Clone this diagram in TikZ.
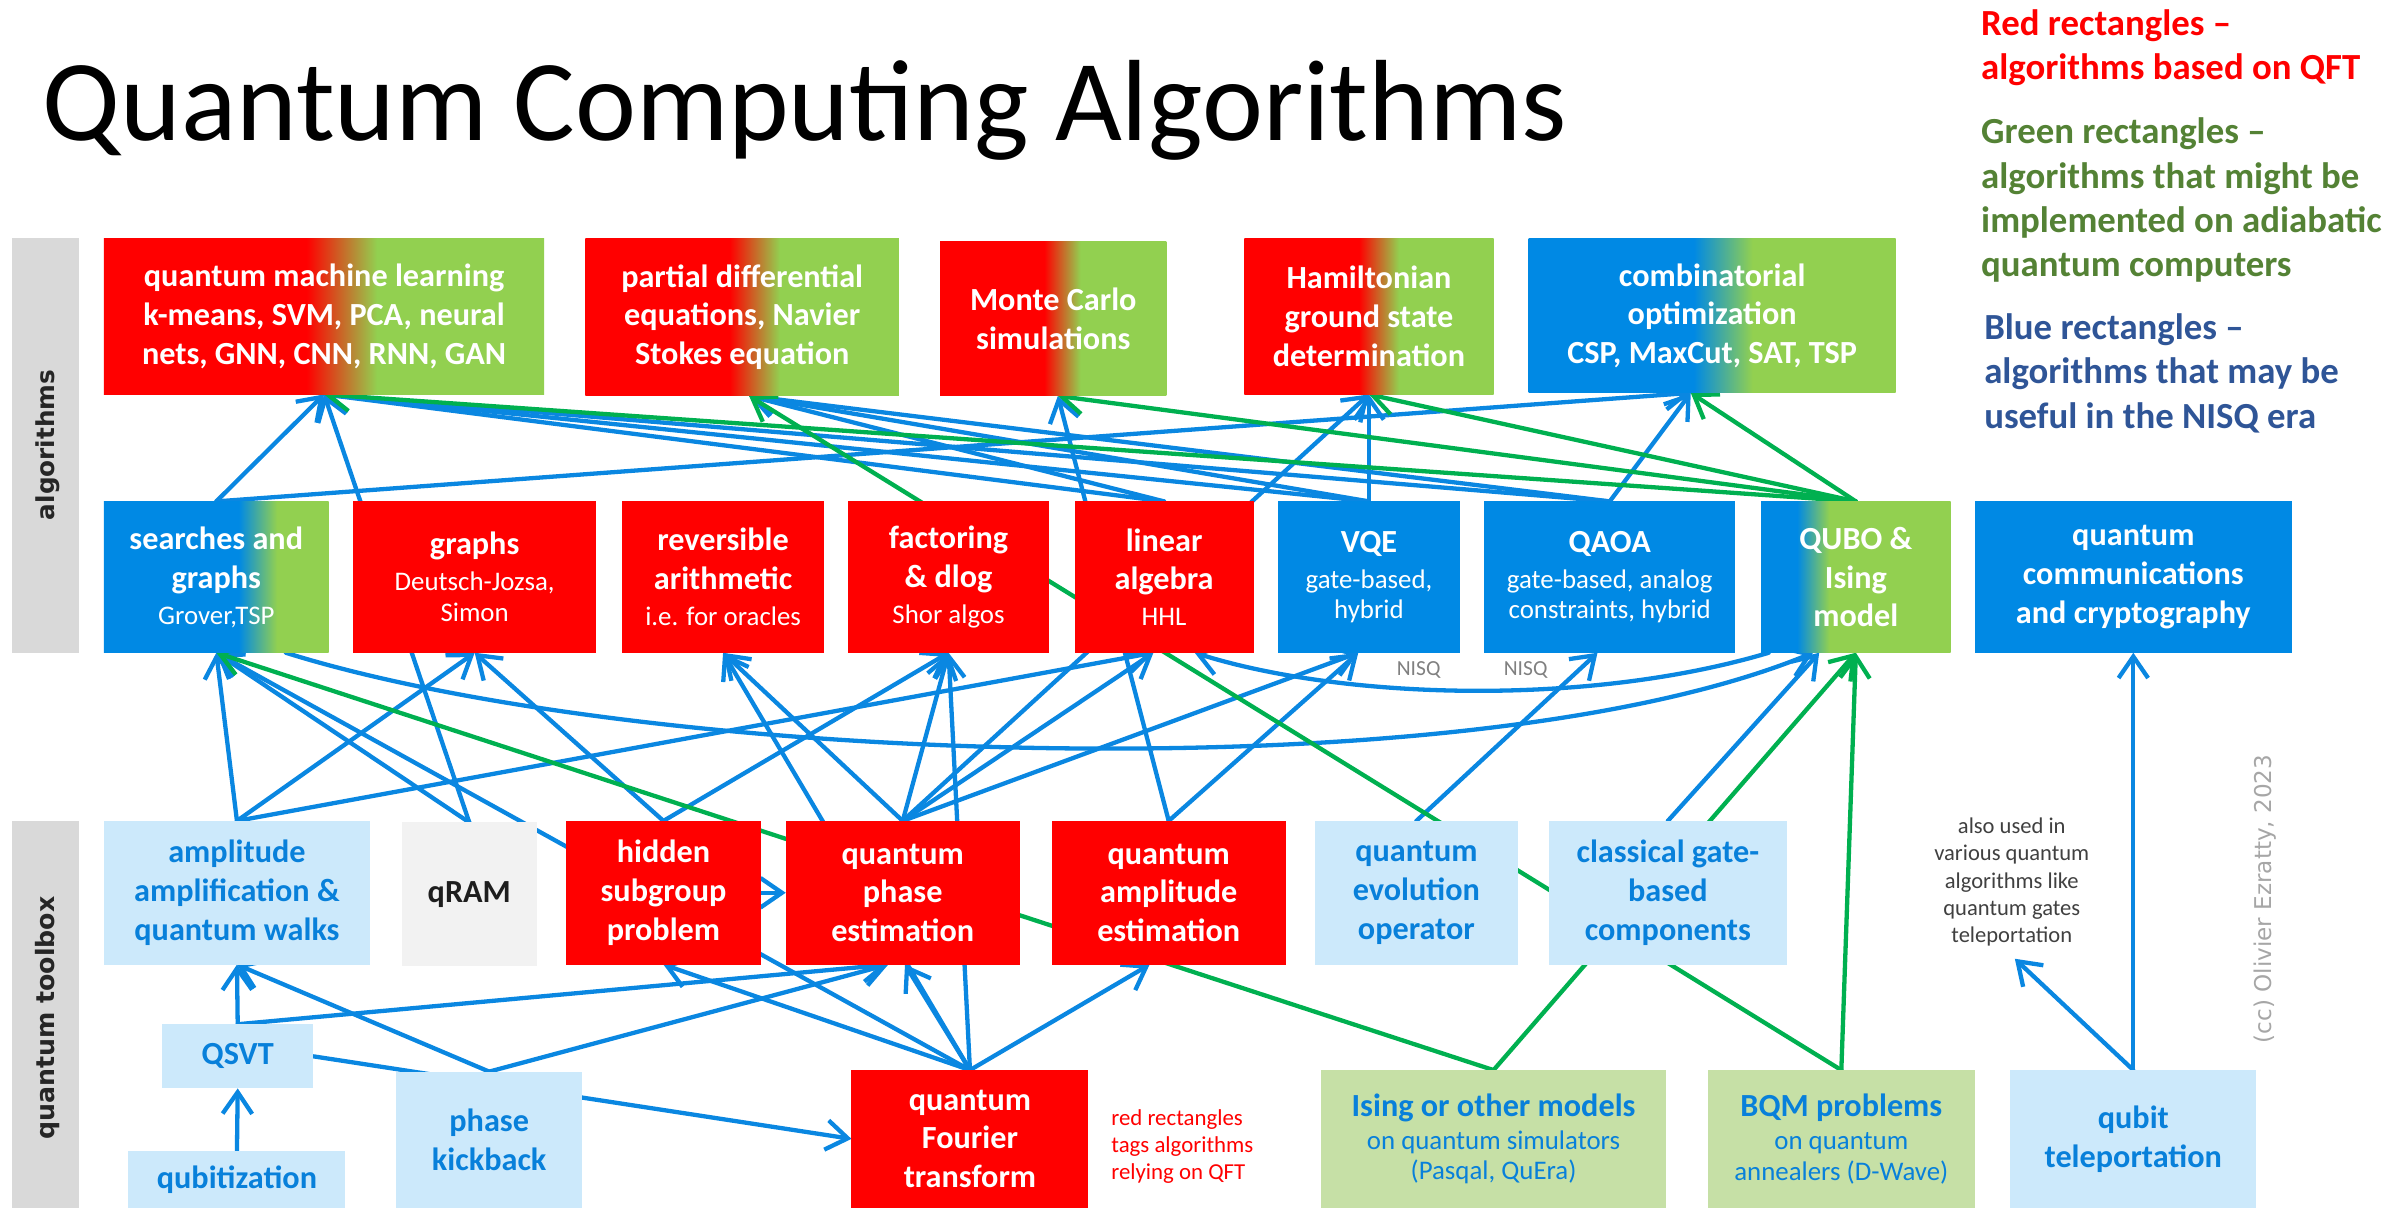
\documentclass[tikz,border=0pt]{standalone}
\usepackage{fontspec}
\setmainfont{Carlito}
\newfontfamily\barfont{DejaVu Sans}
\usetikzlibrary{arrows.meta,calc}

\definecolor{qred}{RGB}{255,0,0}
\definecolor{qgreen}{RGB}{146,208,80}
\definecolor{qblue}{RGB}{0,137,228}
\definecolor{qlight}{RGB}{204,233,251}
\definecolor{qlgreen}{RGB}{198,224,166}
\definecolor{qgray}{RGB}{242,242,242}
\definecolor{qdark}{RGB}{30,30,30}
\definecolor{barg}{RGB}{217,217,217}
\definecolor{bartext}{RGB}{38,38,38}
\definecolor{lnblue}{RGB}{10,135,225}
\definecolor{lngreen}{RGB}{0,176,80}
\definecolor{txblue}{RGB}{8,128,218}
\definecolor{leggreen}{RGB}{84,130,53}
\definecolor{legblue}{RGB}{47,85,151}
\definecolor{notegray}{RGB}{64,64,64}
\definecolor{nisqgray}{RGB}{128,128,128}
\definecolor{ccgray}{RGB}{166,166,166}

% colour transitions inside the two-colour rectangles
\pgfdeclarehorizontalshading{redgreen}{100bp}{color(0bp)=(qred); color(48bp)=(qred); color(56bp)=(qgreen); color(100bp)=(qgreen)}
\pgfdeclarehorizontalshading{bgcomb}{100bp}{color(0bp)=(qblue); color(47.5bp)=(qblue); color(55.5bp)=(qgreen); color(100bp)=(qgreen)}
\pgfdeclarehorizontalshading{bgsearch}{100bp}{color(0bp)=(qblue); color(55bp)=(qblue); color(63.5bp)=(qgreen); color(100bp)=(qgreen)}
\pgfdeclarehorizontalshading{bgqubo}{100bp}{color(0bp)=(qblue); color(34.5bp)=(qblue); color(43bp)=(qgreen); color(100bp)=(qgreen)}

\pgfdeclarelayer{links}
\pgfsetlayers{links,main}

% rectangle from its corners: name, x1, y1, x2, y2, style, text
\newcommand\qbox[7]{%
  \pgfmathsetmacro\qcx{(#2+#4)/2}%
  \pgfmathsetmacro\qcy{(#3+#5)/2}%
  \pgfmathsetmacro\qwd{(#4-#2)*0.02}%
  \pgfmathsetmacro\qht{(#5-#3)*0.02}%
  \node[#6, minimum width=\qwd cm, minimum height=\qht cm] (#1) at (\qcx,\qcy) {#7};}
\newcommand\sm[1]{{\fontsize{10}{12}\selectfont\mdseries #1}}

\tikzset{
  every node/.style={inner sep=0pt, outer sep=0pt},
  qb/.style={align=center, font=\fontsize{12}{14.4}\selectfont\bfseries},
  redbox/.style={qb, fill=qred, text=white},
  bluebox/.style={qb, fill=qblue, text=white},
  gradbox/.style={qb, shade, text=white},
  lightbox/.style={qb, fill=qlight, text=txblue},
  lgbox/.style={qb, fill=qlgreen, text=txblue},
  link/.style={draw=lnblue, line width=1.6pt, line cap=round,
    -{Straight Barb[length=8pt,width=11pt]}},
  glink/.style={link, draw=lngreen},
  leg/.style={anchor=base west, font=\fontsize{13.7}{16}\selectfont\bfseries},
}

\begin{document}
\begin{tikzpicture}[x=0.02cm, y=-0.02cm]
\useasboundingbox (0,0) rectangle (1568,790);

% title and legend
\node[anchor=base west, font=\fontsize{43}{50}\selectfont] (TITLE) at (28,92) {Quantum Computing Algorithms};
\node[leg, text=qred] (L1) at (1296,23) {Red rectangles –};
\node[leg, text=qred] (L2) at (1296,52) {algorithms based on QFT};
\node[leg, text=leggreen] (L3) at (1296,94) {Green rectangles –};
\node[leg, text=leggreen] (L4) at (1296,123) {algorithms that might be};
\node[leg, text=leggreen] (L5) at (1296,152) {implemented on adiabatic};
\node[leg, text=leggreen] (L6) at (1296,181) {quantum computers};
\node[leg, text=legblue] (L7) at (1298,222) {Blue rectangles –};
\node[leg, text=legblue] (L8) at (1298,251) {algorithms that may be};
\node[leg, text=legblue] (L9) at (1298,280) {useful in the NISQ era};

% side bars
\qbox{BARA}{8}{156}{52}{427}{fill=barg}{}
\qbox{BART}{8}{537}{52}{790}{fill=barg}{}
\node[rotate=90, font=\barfont\bfseries\fontsize{9.2}{11}\selectfont, text=bartext] (BARAT) at (31,291) {algorithms};
\node[rotate=90, font=\barfont\bfseries\fontsize{9.4}{11}\selectfont, text=bartext] (BARTT) at (31,666) {quantum toolbox};

% algorithms, top row
\qbox{QML}{68}{156}{356}{258}{gradbox,shading=redgreen}{quantum machine learning\\k-means, SVM, PCA, neural\\nets, GNN, CNN, RNN, GAN}
\qbox{PDE}{383}{156}{588}{259}{gradbox,shading=redgreen}{partial differential\\equations, Navier\\Stokes equation}
\qbox{MC}{615}{158}{763}{259}{gradbox,shading=redgreen}{Monte Carlo\\simulations}
\qbox{HAM}{814}{156}{977}{258}{gradbox,shading=redgreen}{Hamiltonian\\ground state\\determination}
\qbox{COMB}{1000}{156}{1240}{257}{gradbox,shading=bgcomb}{combinatorial\\optimization\\CSP, MaxCut, SAT, TSP}

% algorithms, second row
\qbox{SRCH}{68}{328}{215}{427}{gradbox,shading=bgsearch}{searches and\\graphs\\[-1pt]\sm{Grover,TSP}}
\qbox{GRPH}{231}{328}{390}{427}{redbox}{graphs\\[-1pt]\sm{Deutsch-Jozsa,}\\[-3pt]\sm{Simon}}
\qbox{REV}{407}{328}{539}{427}{redbox}{reversible\\arithmetic\\[-1pt]\sm{i.e. for oracles}}
\qbox{FACT}{555}{328}{686}{427}{redbox}{factoring\\\& dlog\\[-1pt]\sm{Shor algos}}
\qbox{LA}{703}{328}{820}{427}{redbox}{linear\\algebra\\[-1pt]\sm{HHL}}
\qbox{VQE}{836}{328}{955}{427}{bluebox}{VQE\\[-1pt]\sm{gate-based,}\\[-3pt]\sm{hybrid}}
\qbox{QAOA}{971}{328}{1135}{427}{bluebox}{QAOA\\[-1pt]\sm{gate-based, analog}\\[-3pt]\sm{constraints, hybrid}}
\qbox{QUBO}{1152}{328}{1276}{427}{gradbox,shading=bgqubo}{QUBO \&\\Ising\\model}
\qbox{QCOM}{1292}{328}{1499}{427}{bluebox}{quantum\\communications\\and cryptography}

% toolbox, upper row
\qbox{AMP}{68}{537}{242}{631}{lightbox}{amplitude\\amplification \&\\quantum walks}
\qbox{QRAM}{263}{538}{351}{632}{qb, fill=qgray, text=qdark}{qRAM}
\qbox{HSP}{370}{537}{498}{631}{redbox}{hidden\\subgroup\\problem}
\qbox{QPE}{514}{537}{667}{631}{redbox}{quantum\\phase\\estimation}
\qbox{QAE}{688}{537}{841}{631}{redbox}{quantum\\amplitude\\estimation}
\qbox{QEO}{860}{537}{993}{631}{lightbox}{quantum\\evolution\\operator}
\qbox{CLAS}{1013}{537}{1169}{631}{lightbox}{classical gate-\\based\\components}

% toolbox, lower rows
\qbox{QSVT}{106}{670}{205}{712}{lightbox}{QSVT}
\qbox{QBTZ}{84}{753}{226}{790}{lightbox}{qubitization}
\qbox{PK}{259}{701}{381}{790}{lightbox}{phase\\kickback}
\qbox{QFT}{557}{700}{712}{790}{redbox}{quantum\\Fourier\\transform}
\qbox{ISING}{864}{700}{1090}{790}{lgbox}{Ising or other models\\[-2pt]\sm{on quantum simulators}\\[-3pt]\sm{(Pasqal, QuEra)}}
\qbox{BQM}{1117}{700}{1292}{790}{lgbox}{BQM problems\\[-2pt]\sm{on quantum}\\[-3pt]\sm{annealers (D-Wave)}}
\qbox{QTEL}{1315}{700}{1476}{790}{lightbox}{qubit\\teleportation}

% notes
\node[anchor=west, align=left, font=\fontsize{8.5}{10.2}\selectfont, text=qred] (QFTNOTE) at (727,750) {red rectangles\\tags algorithms\\relying on QFT};
\node[align=center, font=\fontsize{8.4}{10.2}\selectfont, text=notegray] (NOTE) at (1316,577) {also used in\\various quantum\\algorithms like\\quantum gates\\teleportation};
\node[font=\fontsize{8}{10}\selectfont, text=nisqgray] (NISQA) at (928,438) {NISQ};
\node[font=\fontsize{8}{10}\selectfont, text=nisqgray] (NISQB) at (998,438) {NISQ};
\node[rotate=90, font=\barfont\fontsize{8.6}{10}\selectfont, text=ccgray] (CC) at (1482,588) {(cc) Olivier Ezratty, 2023};

% connector ports along the box edges
\coordinate (pdeIn) at ($(PDE.south)+(4.5,0)$);
\coordinate (mcIn) at ($(MC.south)+(3,0)$);
\coordinate (combIn) at ($(COMB.south)+(-14,0)$);
\coordinate (laIn) at ($(LA.south)+(-7,0)$);
\coordinate (laCurve) at ($(LA.south)+(20,0)$);
\coordinate (vqeIn) at ($(VQE.south)+(-7,0)$);
\coordinate (qaoaIn) at ($(QAOA.south)+(-8,0)$);
\coordinate (quboIn) at ($(QUBO.south)+(-24,0)$);
\coordinate (quboCurveIn) at ($(QUBO.south)+(-28,0)$);
\coordinate (quboCurveOut) at ($(QUBO.south)+(-57,0)$);
\coordinate (srchOut) at ($(SRCH.south)+(45.5,0)$);
\coordinate (qpeInA) at ($(QPE.south)+(-9.5,0)$);
\coordinate (qpeInB) at ($(QPE.south)+(1.5,0)$);
\coordinate (qaeIn) at ($(QAE.south)+(-12.5,0)$);
\coordinate (noteTip) at ($(NOTE.south)+(2,8)$);

\begin{pgfonlayer}{links}
% gate-based links
\draw[link] (SRCH.north) -- (QML.south);
\draw[link] (SRCH.north) -- (combIn);
\draw[link] (QRAM.north) -- (QML.south);
\draw[link] (LA.north) -- (QML.south);
\draw[link] (LA.north) -- (pdeIn);
\draw[link] (VQE.north) -- (HAM.south);
\draw[link] (VQE.north) -- (QML.south);
\draw[link] (VQE.north) -- (pdeIn);
\draw[link] (QAOA.north) -- (QML.south);
\draw[link] (QAOA.north) -- (pdeIn);
\draw[link] (QAOA.north) -- (combIn);
\draw[link] (QAE.north) -- (mcIn);
\draw[link] (QPE.north) -- (HAM.south);
\draw[link] (AMP.north) -- (SRCH.south);
\draw[link] (AMP.north) -- (GRPH.south);
\draw[link] (AMP.north) -- (laIn);
\draw[link] (QRAM.north) -- (SRCH.south);
\draw[link] (HSP.north) -- (GRPH.south);
\draw[link] (HSP.north) -- (FACT.south);
\draw[link] (QPE.north) -- (FACT.south);
\draw[link] (QPE.north) -- (laIn);
\draw[link] (QPE.north) -- (vqeIn);
\draw[link] (QPE.north) -- (REV.south);
\draw[link] (QAE.north) -- (vqeIn);
\draw[link] (QEO.north) -- (qaoaIn);
\draw[link] (CLAS.north) -- (quboIn);
\draw[link] (srchOut) .. controls (420,500) and (960,520) .. (quboCurveIn);
\draw[link] (quboCurveOut) .. controls (1040,462) and (880,458) .. (laCurve);
\draw[link] (QFT.north) -- (FACT.south);
\draw[link] (QFT.north) -- (qpeInB);
\draw[link] (QFT.north) -- (qaeIn);
\draw[link] (QFT.north) -- (HSP.south);
\draw[link] (QFT.north) -- (SRCH.south);
\draw[link] (QFT.north) -- (REV.south);
\draw[link] (QSVT.north) -- (AMP.south);
\draw[link] (QSVT.north) -- (qpeInA);
\draw[link] (QBTZ.north) -- (QSVT.south);
\draw[link] (PK.north) -- (AMP.south);
\draw[link] (PK.north) -- (qpeInA);
\draw[link] (QSVT.east) -- (QFT.west);
\draw[link] (HSP.east) -- (QPE.west);
\draw[link] (QTEL.north) -- (QCOM.south);
\draw[link] (QTEL.north) -- (noteTip);
% adiabatic links
\draw[glink] (ISING.north) -- (SRCH.south);
\draw[glink] (ISING.north) -- (QUBO.south);
\draw[glink] (BQM.north) -- (QUBO.south);
\draw[glink] (BQM.north) -- (pdeIn);
\draw[glink] (QUBO.north) -- (QML.south);
\draw[glink] (QUBO.north) -- (mcIn);
\draw[glink] (QUBO.north) -- (HAM.south);
\draw[glink] (QUBO.north) -- (combIn);
\end{pgfonlayer}
\end{tikzpicture}
\end{document}
